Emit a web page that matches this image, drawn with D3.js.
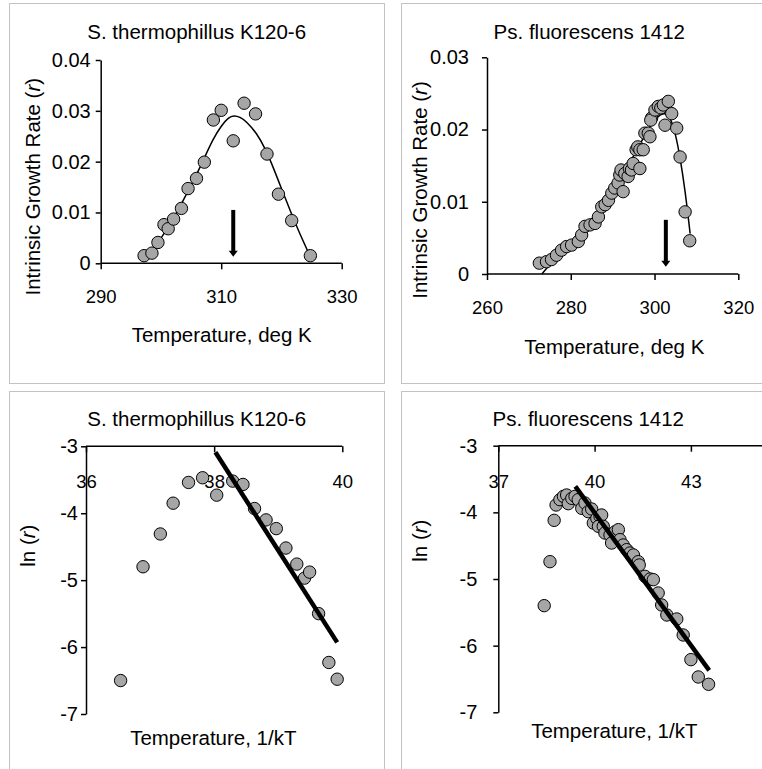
<!DOCTYPE html>
<html>
<head>
<meta charset="utf-8">
<script src="https://cdn.jsdelivr.net/npm/d3@7"></script>
<style>
  body { margin: 0; background: #fff; }
  svg { display: block; font-family: "Liberation Sans", Arial, sans-serif; }
  .frame { fill: none; stroke: #c3c3c3; stroke-width: 1; }
  .axis path, .axis line { stroke: #000; stroke-width: 1.5; }
  .axis text { fill: #000; font-size: 18.5px; }
  .yaxis text { font-size: 20px; }
  .dot { fill: #a6a6a6; stroke: #000; stroke-width: 1; }
  .title { font-size: 20.5px; text-anchor: middle; }
</style>
</head>
<body>
<svg id="chart" width="762" height="769"></svg>
<script>
// S. thermophillus K120-6, growth rate vs temperature
const stTemp = [297.2, 298.5, 299.5, 300.5, 301.2, 302.1, 303.4, 304.5, 305.9, 307.2,
  308.7, 310.0, 312.0, 313.8, 315.7, 317.6, 319.5, 321.7, 324.8];
const stRate = [0.0015, 0.0020, 0.0041, 0.0076, 0.0068, 0.0087, 0.0108, 0.0147, 0.0167, 0.0199,
  0.0282, 0.0301, 0.0241, 0.0315, 0.0294, 0.0215, 0.0136, 0.0084, 0.0015];
const stFitTemp = [297.6, 299.3, 300.9, 302.6, 304.3, 305.9, 307.3, 308.7, 310.1, 311.2,
  312.1, 313.1, 314.2, 315.9, 317.3, 318.7, 320.1, 321.5, 322.9, 324.3, 325.0];
const stFitRate = [0.0010, 0.0036, 0.0066, 0.0098, 0.0138, 0.0174, 0.0210, 0.0246, 0.0272, 0.0287,
  0.0291, 0.0288, 0.0279, 0.0256, 0.0226, 0.0187, 0.0144, 0.0102, 0.0062, 0.0026, 0.0006];
const stArrow = [312.0, 0.0105, 0.0013];

// Ps. fluorescens 1412, growth rate vs temperature
const psTemp = [272.5, 274.2, 275.4, 276.6, 277.8, 279.0, 280.2, 281.8, 282.6, 283.4,
  284.6, 285.8, 286.6, 287.4, 288.2, 289.0, 289.8, 290.5, 291.3, 291.7,
  292.0, 292.5, 292.9, 293.7, 294.0, 294.5, 294.9, 295.6, 296.0, 296.5,
  296.5, 297.3, 297.7, 298.5, 298.9, 299.3, 299.1, 300.1, 300.9, 301.5,
  302.1, 302.5, 303.3, 304.1, 305.3, 306.1, 307.3, 308.4];
const psRate = [0.0015, 0.0017, 0.0020, 0.0026, 0.0033, 0.0038, 0.0040, 0.0045, 0.0054, 0.0066,
  0.0068, 0.0070, 0.0079, 0.0093, 0.0096, 0.0102, 0.0112, 0.0119, 0.0126, 0.0137,
  0.0144, 0.0114, 0.0139, 0.0135, 0.0146, 0.0144, 0.0153, 0.0172, 0.0176, 0.0172,
  0.0146, 0.0172, 0.0195, 0.0195, 0.0190, 0.0216, 0.0213, 0.0227, 0.0232, 0.0230,
  0.0234, 0.0206, 0.0239, 0.0222, 0.0202, 0.0162, 0.0086, 0.0046];
const psFitTemp = [273.1, 275.8, 279.0, 282.2, 285.4, 288.6, 291.7, 294.9, 298.1, 300.5,
  302.5, 303.7, 304.9, 306.1, 307.3, 308.5];
const psFitRate = [0.0000, 0.0019, 0.0036, 0.0049, 0.0068, 0.0098, 0.0130, 0.0162, 0.0197, 0.0218,
  0.0224, 0.0218, 0.0197, 0.0162, 0.0116, 0.0056];
const psArrow = [302.7, 0.0075, 0.0010];

// Arrhenius plots, ln(r) vs 1/kT
const stInvKT = [36.54, 36.89, 37.16, 37.36, 37.60, 37.82, 38.04, 38.29, 38.45, 38.63,
  38.81, 38.97, 39.12, 39.29, 39.41, 39.49, 39.63, 39.79, 39.92];
const stLnR = [-6.50, -4.80, -4.31, -3.85, -3.54, -3.47, -3.73, -3.52, -3.57, -3.93,
  -4.10, -4.23, -4.52, -4.76, -4.97, -4.88, -5.50, -6.23, -6.48];
const stLineX = [38.02, 39.92];
const stLineY = [-3.09, -5.93];

const psInvKT = [38.43, 38.61, 38.74, 38.80, 38.92, 39.03, 39.13, 39.18, 39.29, 39.39,
  39.49, 39.60, 39.70, 39.80, 39.91, 39.96, 40.07, 40.17, 40.22, 40.12,
  40.27, 40.32, 40.48, 40.53, 40.64, 40.74, 40.79, 40.89, 41.00, 41.10,
  41.21, 41.36, 41.39, 41.57, 41.73, 41.83, 41.98, 42.09, 42.25, 42.56,
  42.76, 43.00, 43.23, 43.55];
const psLnR = [-5.40, -4.74, -4.12, -3.89, -3.81, -3.76, -3.74, -3.87, -3.79, -3.76,
  -3.81, -3.94, -3.86, -3.99, -3.95, -4.16, -4.09, -4.06, -4.04, -4.21,
  -4.21, -4.31, -4.34, -4.46, -4.29, -4.26, -4.41, -4.49, -4.56, -4.61,
  -4.64, -4.74, -4.79, -4.96, -5.00, -5.01, -5.21, -5.39, -5.54, -5.60,
  -5.84, -6.21, -6.47, -6.58];
const psLineX = [39.40, 43.57];
const psLineY = [-3.61, -6.37];

const svg = d3.select("#chart");

const zip = (xs, ys) => xs.map((x, i) => [x, ys[i]]);

const panels = [
  {
    frame: [9.5, 3.5, 375, 380],
    title: "S. thermophillus K120-6", titlePos: [196.7, 31.7],
    x: d3.scaleLinear([290, 330], [100.7, 341.7]), xTicks: [290, 310, 330], xPad: 21,
    y: d3.scaleLinear([0, 0.04], [263.3, 60]), yTicks: [0, 0.01, 0.02, 0.03, 0.04], yPad: 5,
    xLabel: "Temperature, deg K", xLabelPos: [221.7, 335],
    yLabel: "Intrinsic Growth Rate (", yLabelPos: [33.3, 186.7],
    dots: zip(stTemp, stRate), fit: zip(stFitTemp, stFitRate), arrow: stArrow,
  },
  {
    frame: [401.5, 3.5, 400, 380],
    title: "Ps. fluorescens 1412", titlePos: [589.3, 31.7],
    x: d3.scaleLinear([260, 320], [487, 738.3]), xTicks: [260, 280, 300, 320], xPad: 21,
    y: d3.scaleLinear([0, 0.03], [274, 57.3]), yTicks: [0, 0.01, 0.02, 0.03], yPad: 13,
    xLabel: "Temperature, deg K", xLabelPos: [614.3, 346.7],
    yLabel: "Intrinsic Growth Rate (", yLabelPos: [420.3, 190],
    dots: zip(psTemp, psRate), fit: zip(psFitTemp, psFitRate), arrow: psArrow,
  },
  {
    frame: [9.5, 391.5, 375, 400],
    title: "S. thermophillus K120-6", titlePos: [196.7, 419],
    x: d3.scaleLinear([36, 40], [86, 342.3]), xTicks: [36, 38, 40], xPad: 23,
    y: d3.scaleLinear([-3, -7], [446.3, 714]), yTicks: [-3, -4, -5, -6, -7], yPad: 3,
    xLabel: "Temperature, 1/kT", xLabelPos: [213.3, 738],
    yLabel: "ln (", yLabelPos: [28.3, 545.7],
    dots: zip(stInvKT, stLnR), line: zip(stLineX, stLineY),
  },
  {
    frame: [401.5, 391.5, 400, 400],
    title: "Ps. fluorescens 1412", titlePos: [588.3, 419],
    x: d3.scaleLinear([37, 46], [498.3, 787.2]), xTicks: [37, 40, 43], xPad: 23,
    y: d3.scaleLinear([-3, -7], [445.7, 712.3]), yTicks: [-3, -4, -5, -6, -7], yPad: 16,
    xLabel: "Temperature, 1/kT", xLabelPos: [614.3, 730.7],
    yLabel: "ln (", yLabelPos: [420.3, 540.7],
    dots: zip(psInvKT, psLnR), line: zip(psLineX, psLineY),
  },
];

panels.forEach((p) => {
  const g = svg.append("g");
  const [fx, fy, fw, fh] = p.frame;
  g.append("rect").attr("class", "frame")
    .attr("x", fx).attr("y", fy).attr("width", fw).attr("height", fh);

  g.append("text").attr("class", "title")
    .attr("x", p.titlePos[0]).attr("y", p.titlePos[1]).attr("dy", "0.35em")
    .text(p.title);

  // horizontal axis crosses at the first y tick (0 for rates, -3 for ln r)
  const xAxisY = p.y(p.yTicks[0]);
  g.append("g").attr("class", "axis")
    .attr("transform", `translate(0,${xAxisY})`)
    .call(d3.axisBottom(p.x).tickValues(p.xTicks).tickSize(6).tickSizeOuter(0)
      .tickPadding(p.xPad).tickFormat((d) => d))
    .call((a) => a.select(".domain").attr("d", `M${p.x.range()[0]},0H${p.x.range()[1]}`));

  g.append("g").attr("class", "axis yaxis")
    .attr("transform", `translate(${p.x.range()[0]},0)`)
    .call(d3.axisLeft(p.y).tickValues(p.yTicks).tickSize(5).tickSizeOuter(0)
      .tickPadding(p.yPad).tickFormat((d) => d));

  g.append("text").attr("class", "title")
    .attr("x", p.xLabelPos[0]).attr("y", p.xLabelPos[1]).attr("dy", "0.35em")
    .text(p.xLabel);

  const yl = g.append("text").attr("class", "title")
    .attr("transform", `translate(${p.yLabelPos[0]},${p.yLabelPos[1]}) rotate(-90)`)
    .attr("dy", "0.35em");
  yl.append("tspan").text(p.yLabel);
  yl.append("tspan").attr("font-style", "italic").text("r");
  yl.append("tspan").text(")");

  if (p.fit) {
    g.append("path")
      .attr("d", d3.line().x((d) => p.x(d[0])).y((d) => p.y(d[1])).curve(d3.curveBasis)(p.fit))
      .attr("fill", "none").attr("stroke", "#000").attr("stroke-width", 1.5);
  }

  if (p.arrow) {
    const ax = p.x(p.arrow[0]);
    const y0 = p.y(p.arrow[1]);
    const y1 = p.y(p.arrow[2]);
    g.append("line").attr("x1", ax).attr("x2", ax).attr("y1", y0).attr("y2", y1 - 5)
      .attr("stroke", "#000").attr("stroke-width", 4);
    g.append("path").attr("d", `M${ax - 4.5},${y1 - 6}L${ax + 4.5},${y1 - 6}L${ax},${y1}Z`)
      .attr("fill", "#000");
  }

  g.selectAll(".dot").data(p.dots).join("circle").attr("class", "dot")
    .attr("cx", (d) => p.x(d[0])).attr("cy", (d) => p.y(d[1])).attr("r", 6.2);

  if (p.line) {
    g.append("path")
      .attr("d", d3.line().x((d) => p.x(d[0])).y((d) => p.y(d[1]))(p.line))
      .attr("fill", "none").attr("stroke", "#000").attr("stroke-width", 4.5);
  }
});
</script>
</body>
</html>
